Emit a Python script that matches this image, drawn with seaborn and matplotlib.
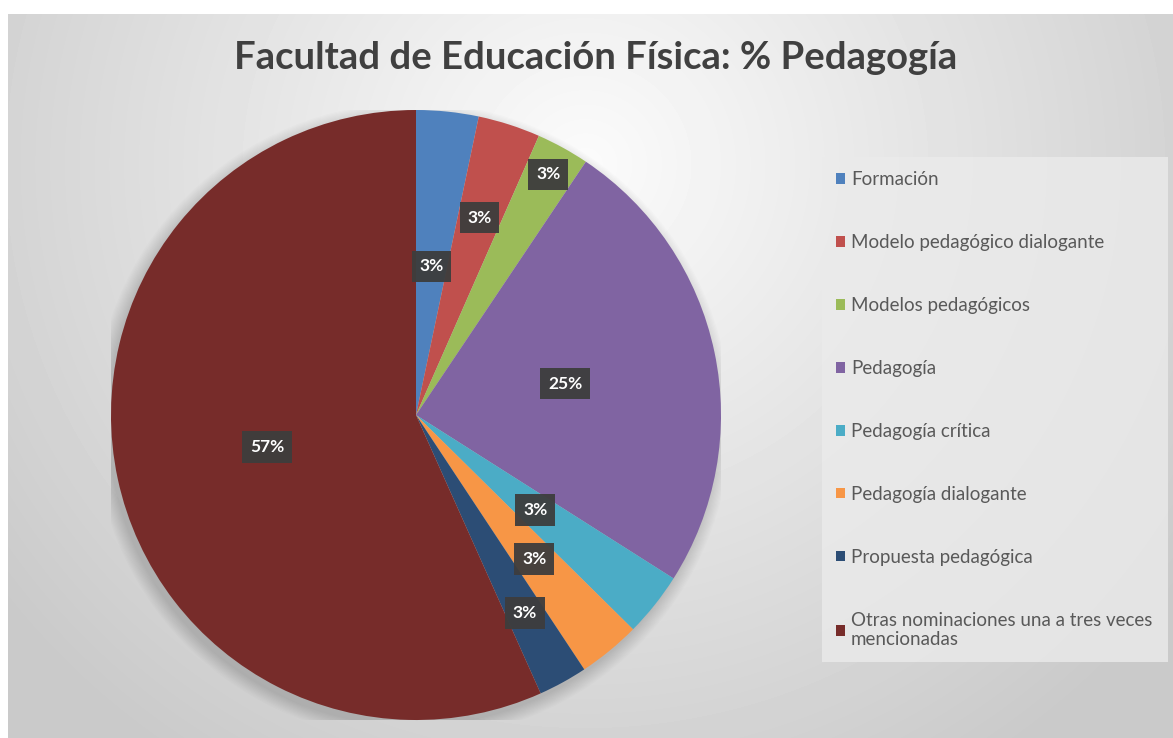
import numpy as np
import seaborn as sns
import matplotlib.pyplot as plt

# Data
categorias = [
    "Formación",
    "Modelo pedagógico dialogante",
    "Modelos pedagógicos",
    "Pedagogía",
    "Pedagogía crítica",
    "Pedagogía dialogante",
    "Propuesta pedagógica",
    "Otras nominaciones una a tres veces\nmencionadas",
]
porcentajes = [3.3, 3.3, 2.8, 24.6, 3.4, 3.3, 2.6, 56.7]

colores = ["#4F81BD", "#C0504D", "#9BBB59", "#8064A2",
           "#4BACC6", "#F79646", "#2C4D75", "#772C2A"]
# distance of each data label from centre (fraction of radius)
dist_etiqueta = [0.49, 0.68, 0.90, 0.50, 0.50, 0.61, 0.74, 0.50]

sns.set_theme(style="white")
plt.rcParams['font.family'] = ['Lato', 'DejaVu Sans']

W, H = 1173, 738
fig = plt.figure(figsize=(W / 100, H / 100), dpi=100)
fig.patch.set_facecolor("white")

# chart-area background: soft radial gradient
bg = fig.add_axes([8 / W, 0, 1 - 8 / W, 1 - 14 / H], zorder=0)
yy, xx = np.mgrid[0:724, 0:1165]
d = np.sqrt(((xx - 577) / 720.0) ** 2 + ((yy - 150) / 700.0) ** 2)
grad = np.clip(0.985 - 0.19 * d, 0.79, 0.985)
bg.imshow(grad, cmap="gray", vmin=0, vmax=1, aspect="auto",
          extent=[0, 1, 0, 1], origin="upper", interpolation="bilinear")
bg.set_axis_off()

# pie axes
cx, cy, r = 416, 415, 305
ax = fig.add_axes([(cx - r) / W, (H - cy - r) / H, 2 * r / W, 2 * r / H], zorder=2)
ax.set_facecolor("none")

# soft shadow behind the pie
for k in range(12):
    sh = plt.Circle((-0.012, -0.02), 1.0 + 0.004 * k, color="black",
                    alpha=0.012, lw=0, zorder=0)
    ax.add_patch(sh)

wedges, _ = ax.pie(porcentajes, colors=colores, startangle=90, counterclock=False,
                   radius=1.0, wedgeprops=dict(linewidth=0, zorder=2))
ax.set_xlim(-1, 1)
ax.set_ylim(-1, 1)
ax.set_aspect("equal")
ax.set_axis_off()

total = sum(porcentajes)
for w, v, rd in zip(wedges, porcentajes, dist_etiqueta):
    ang = np.deg2rad((w.theta1 + w.theta2) / 2)
    ax.text(rd * np.cos(ang), rd * np.sin(ang), f"{v / total * 100:.0f}%",
            ha="center", va="center", color="white", fontsize=12.5,
            fontweight="bold", zorder=4,
            bbox=dict(boxstyle="square,pad=0.45", fc="#3d3d3d", ec="none", alpha=0.95))

fig.text(596 / W, 1 - 58 / H, "Facultad de Educación Física: % Pedagogía",
         ha="center", va="center", fontsize=27.5, fontweight="bold", color="#404040",
         zorder=3)

leg = fig.legend(wedges, categorias, loc="upper left",
                 bbox_to_anchor=(822 / W, 1 - 673 / H, 346 / W, 516 / H),
                 mode="expand", frameon=True, fontsize=13.5, labelcolor="#595959",
                 handlelength=0.5, handleheight=0.5, handletextpad=0.3,
                 labelspacing=2.45, borderpad=0.75, borderaxespad=0)
leg.get_frame().set_facecolor("#ebebeb")
leg.get_frame().set_edgecolor("none")
leg.get_frame().set_boxstyle("square", pad=0)
leg.set_zorder(3)

fig.savefig("out.png", dpi=100)
